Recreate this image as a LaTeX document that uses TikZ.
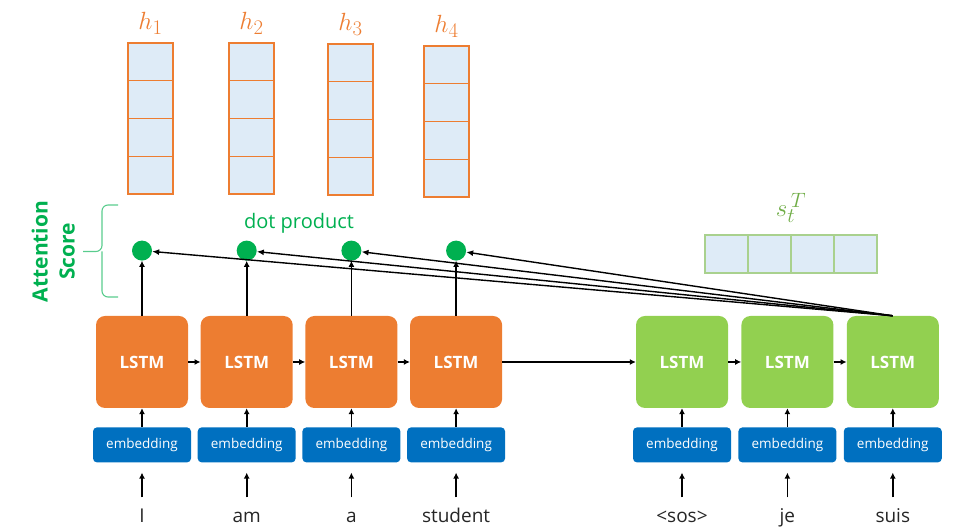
\documentclass[tikz,border=0pt]{standalone}
\usepackage{fontspec}
\setmainfont{Open Sans}
\usepackage{tikz}
\usetikzlibrary{arrows.meta, positioning, calc}
\definecolor{encorange}{HTML}{ED7D31}
\definecolor{decgreen}{HTML}{92D050}
\definecolor{embblue}{HTML}{0070C0}
\definecolor{scoregreen}{HTML}{00B050}
\definecolor{cellblue}{HTML}{DEEBF7}
\definecolor{celledge}{HTML}{A9D18E}
\definecolor{stgreen}{HTML}{70AD47}

\begin{document}
\begin{tikzpicture}[
    x=1pt, y=1pt,
    enc/.style={rounded corners=9pt, fill=encorange, minimum width=92pt,
                minimum height=92pt, text=white, font=\bfseries\fontsize{17}{19}\selectfont},
    dec/.style={enc, fill=decgreen},
    emb/.style={rounded corners=4pt, fill=embblue, minimum width=98pt,
                minimum height=35pt, text=white, font=\fontsize{13.5}{15}\selectfont},
    word/.style={inner sep=0pt, text height=13pt, text depth=3pt,
                 text=black!85, font=\fontsize{19}{21}\selectfont},
    score/.style={circle, fill=scoregreen, minimum size=20pt, inner sep=0pt},
    hcell/.style={draw=encorange, line width=1.3pt, fill=cellblue, outer sep=0pt,
                  minimum width=45pt, minimum height=37.75pt, inner sep=0pt},
    scell/.style={draw=celledge, line width=1.3pt, fill=cellblue, outer sep=0pt,
                  minimum width=43pt, minimum height=38pt, inner sep=0pt},
    veclabel/.style={font=\fontsize{28}{30}\selectfont, inner sep=0pt},
    arr/.style={-{Latex[length=6pt, width=6pt]}, line width=1.6pt},
]
\useasboundingbox (0,0) rectangle (954,532);

% encoder
\node[enc] (enc1) at (142,170) {LSTM};
\node[enc, right=12.3pt of enc1] (enc2) {LSTM};
\node[enc, right=12.3pt of enc2] (enc3) {LSTM};
\node[enc, right=12.3pt of enc3] (enc4) {LSTM};

% decoder
\node[dec] (dec1) at (682,170) {LSTM};
\node[dec, right=13pt of dec1] (dec2) {LSTM};
\node[dec, right=13pt of dec2] (dec3) {LSTM};

% embeddings and input words
\foreach \n/\w in {enc1/I, enc2/am, enc3/a, enc4/student, dec1/<sos>, dec2/je, dec3/suis} {
  \node[emb, below=19pt of \n] (emb-\n) {embedding};
  \node[word, below=60pt of emb-\n, anchor=base] (w-\n) {\w};
  \draw[arr, shorten <=12pt, shorten >=10pt] (w-\n) -- (emb-\n);
  \draw[arr] (emb-\n) -- (\n);
}

% recurrent links
\draw[arr] (enc1) -- (enc2);
\draw[arr] (enc2) -- (enc3);
\draw[arr] (enc3) -- (enc4);
\draw[arr] (enc4) -- (dec1);
\draw[arr] (dec1) -- (dec2);
\draw[arr] (dec2) -- (dec3);

% hidden states h_i
\foreach \i/\x/\y in {1/150.5/489, 2/251.5/489, 3/350.5/488, 4/446.5/486} {
  \node[hcell, anchor=north] (h\i-1) at (\x,\y) {};
  \foreach \j [remember=\j as \k (initially 1)] in {2,3,4}
    \node[hcell, below=0pt of h\i-\k] (h\i-\j) {};
  \node[veclabel, text=encorange, above=8pt of h\i-1] (hl\i) {$h_{\i}$};
}

% decoder state s_t^T
\node[scell] (s1) at (726.5,278) {};
\foreach \j [remember=\j as \k (initially 1)] in {2,3,4}
  \node[scell, right=0pt of s\k] (s\j) {};
\node[veclabel, text=stgreen, above=12pt of $(s2.north)!0.5!(s3.north)$] (sl) {$s_t^{\,T}$};

% attention scores
\node[score, above=55pt of enc1] (dot1) {};
\node[score, above=55pt of enc2] (dot2) {};
\node[score, above=55pt of enc3] (dot3) {};
\node[score, above=55pt of enc4] (dot4) {};
\node[text=scoregreen, font=\fontsize{20}{22}\selectfont, above=4pt of $(dot2.north)!0.5!(dot3.north)$] (dp) {dot product};

\foreach \i in {1,...,4} {
  \draw[arr] (enc\i) -- (dot\i);
  \draw[-{Latex[length=7pt, width=6pt]}, line width=1.4pt] (dec3.north) -- (dot\i);
}

% brace
\coordinate (brtip) at (83,280.5);
\draw[scoregreen!65, line width=1.1pt, rounded corners=6pt]
  (118,327) -- (102,327) -- (102,280.5) -- (brtip)
  (118,235) -- (102,235) -- (102,280.5);
\node[text=scoregreen, rotate=90, align=center, inner sep=0pt,
      font=\bfseries\fontsize{21}{27}\selectfont, left=8pt of brtip, anchor=south] (att) {Attention\\Score};
\end{tikzpicture}
\end{document}
